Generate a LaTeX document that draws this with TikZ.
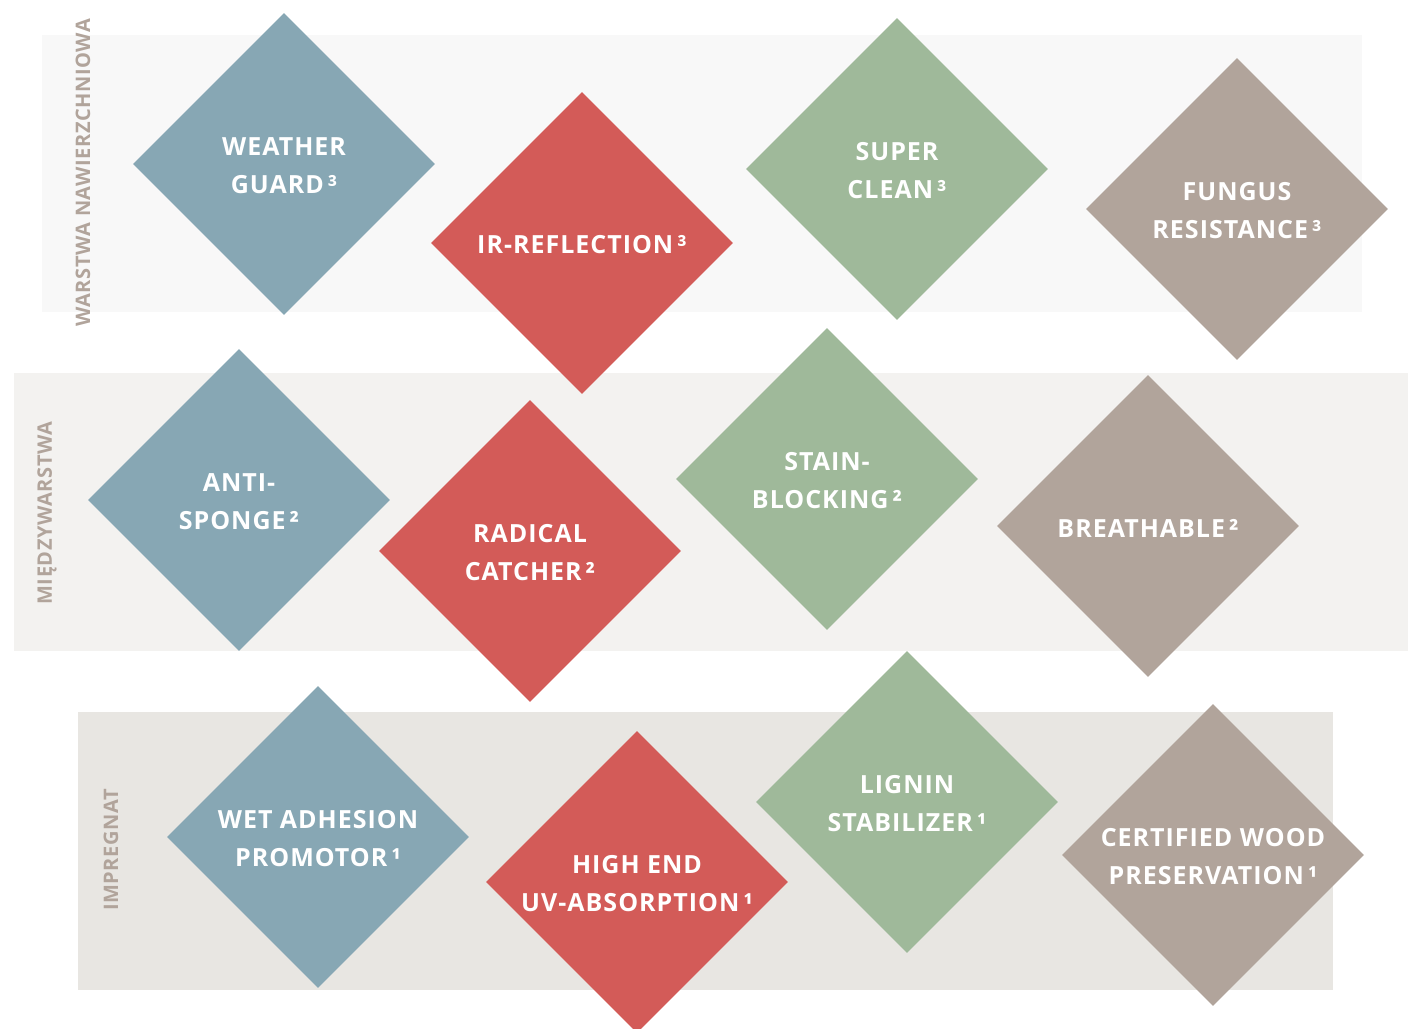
\documentclass[tikz,border=0pt]{standalone}
\usepackage{fontspec}
\setmainfont{Open Sans}[LetterSpace=4]
\newfontfamily\sidefont{Open Sans}[LetterSpace=3]
\usetikzlibrary{shapes.geometric}
\definecolor{tblue}{HTML}{87A7B4}
\definecolor{tred}{HTML}{D35B58}
\definecolor{tgreen}{HTML}{9FB99A}
\definecolor{ttaupe}{HTML}{B1A49B}
\definecolor{bandA}{HTML}{F8F8F8}
\definecolor{bandB}{HTML}{F3F2F0}
\definecolor{bandC}{HTML}{E8E6E2}
\newcommand\fn[1]{\kern4pt#1}
\tikzset{
  tile/.style={diamond, aspect=1, minimum width=302, minimum height=302, inner sep=0},
  tiletext/.style={text=white, align=center, yshift=-2pt, font=\bfseries\fontsize{25}{38}\selectfont},
  side/.style={rotate=90, text=ttaupe, font=\sidefont\bfseries\fontsize{20}{20}\selectfont}
}
\begin{document}
\begin{tikzpicture}[x=1pt, y=-1pt]
    \useasboundingbox (0,0) rectangle (1408,1028);
    \fill[bandA] (42,35) rectangle (1362,312);
    \fill[bandB] (14,373) rectangle (1408,651);
    \fill[bandC] (78,712) rectangle (1333,990);

    \node[side] (top) at (83,173) {WARSTWA NAWIERZCHNIOWA};
    \node[side] (mid) at (47,513) {MIĘDZYWARSTWA};
    \node[side] (low) at (111,850) {IMPREGNAT};

    \foreach \n/\x/\y/\c/\t in {
      wg/284/164/tblue/{WEATHER\\GUARD\fn{³}},
      ir/582/243/tred/{IR-REFLECTION\fn{³}},
      sc/897/169/tgreen/{SUPER\\CLEAN\fn{³}},
      fr/1237/209/ttaupe/{FUNGUS\\RESISTANCE\fn{³}},
      as/239/500/tblue/{ANTI-\\SPONGE\fn{²}},
      rc/530/551/tred/{RADICAL\\CATCHER\fn{²}},
      sb/827/479/tgreen/{STAIN-\\BLOCKING\fn{²}},
      br/1148/526/ttaupe/{BREATHABLE\fn{²}},
      wa/318/837/tblue/{WET ADHESION\\PROMOTOR\fn{¹}},
      uv/637/882/tred/{HIGH END\\UV-ABSORPTION\fn{¹}},
      ls/907/802/tgreen/{LIGNIN\\STABILIZER\fn{¹}},
      cw/1213/855/ttaupe/{CERTIFIED WOOD\\PRESERVATION\fn{¹}}}
      { \node[tile, fill=\c, label={[tiletext]center:\t}] (\n) at (\x,\y) {}; }
  \end{tikzpicture}
\end{document}
